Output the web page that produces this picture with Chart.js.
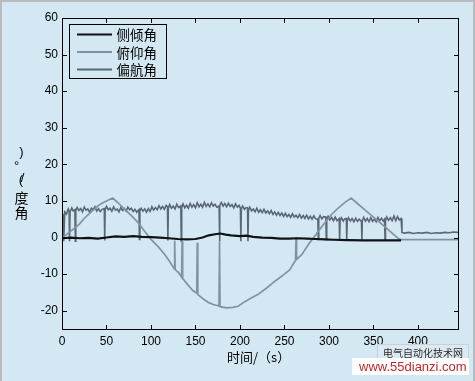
<!DOCTYPE html>
<html>
<head>
<meta charset="utf-8">
<script src="https://cdn.jsdelivr.net/npm/chart.js@4/dist/chart.umd.min.js"></script>
<style>
html,body{margin:0;padding:0;background:#d4e8f4;}
#wrap{width:475px;height:381px;position:relative;}
</style>
</head>
<body>
<div id="wrap"><canvas id="c" width="475" height="381"></canvas></div>
<script>
// ---- data ----
const seriesNames = ['侧倾角', '俯仰角', '偏航角'];
const xTickValues = [0, 50, 100, 150, 200, 250, 300, 350, 400];
const yTickValues = [-20, -10, 0, 10, 20, 30, 40, 50, 60];
const xTitle = '时间/（s）';

// roll (侧倾角): [time, degrees]
const rollPoints = [
  [0,-0.2],[10,0],[20,-0.2],[30,-0.1],[40,-0.3],[50,0],[60,0.3],[70,0.2],[80,0.4],[90,0.2],
  [100,0.1],[110,0],[120,-0.2],[130,-0.4],[140,-0.5],[150,-0.4],[158,0],[165,0.6],[172,0.9],[178,1.1],
  [184,0.8],[190,0.6],[200,0.4],[207,0.5],[215,0.2],[225,0],[235,-0.1],[245,-0.3],[255,-0.3],[265,-0.2],
  [275,-0.3],[285,-0.4],[295,-0.5],[305,-0.6],[320,-0.7],[340,-0.8],[360,-0.8],[381,-0.8]
];

// pitch (俯仰角): [time, degrees]
const pitchPoints = [
  [0,0],[5,0.8],[10,1.8],[15,2.7],[20,3.8],[25,5.2],[30,6.4],[35,7.5],[40,8.6],[45,9.4],
  [50,10.0],[57,10.8],[63,9.5],[70,7.8],[78,6.0],[85,4.2],[92,2.0],[100,-0.5],[108,-2.5],[115,-4.5],
  [120,-6.2],[126,-8.5],[126.6,-0.8],[127.2,-8.8],[131,-9.6],[134.4,-10.8],[135,-1.0],[135.6,-11.2],[141,-12.8],[147,-14.5],
  [151.4,-15.2],[152,-1.4],[152.6,-15.6],[160,-17.0],[165,-17.8],[170,-18.3],[176.4,-18.7],[177,-1.0],[177.6,-18.9],[185,-19.2],
  [192,-19.1],[198,-18.8],[205,-17.6],[212,-16.6],[220,-15.6],[230,-13.8],[240,-11.8],[250,-10.0],[256,-8.8],[262.4,-6.2],
  [263,0],[263.6,-6.0],[270,-4.5],[278,-1.5],[286,1.0],[292,3.0],[297,4.5],[303,6.3],[310,8.0],[318,9.6],
  [325,10.8],[332,9.3],[340,7.6],[350,5.6],[360,3.5],[370,1.4],[378,-0.3],[381,-0.6],[400,-0.6],[420,-0.6],
  [445,-0.6]
];

// yaw (偏航角): [time, degrees]
const yawPoints = [
  [0,0],[1,6.5],[2,-1],[3,7.0],[5,6.4],[7,7.8],[8,7.2],[8.5,-1],[9,7.0],[11,8.1],
  [12.5,7.3],[14.5,7.6],[15,-1],[15.5,7.4],[17,8.2],[19,7.4],[21,7.9],[23,7.0],[25,8.3],[27,7.5],
  [29,7.8],[31,6.9],[33,8.0],[35,7.6],[37,8.4],[39,7.2],[41,7.9],[43,7.1],[45,7.7],[47.5,7.9],
  [48,-0.8],[48.5,7.6],[50,8.5],[52,7.6],[54,8.0],[56,7.2],[58,8.4],[60,7.5],[62,7.8],[64,7.0],
  [66,8.2],[68,7.4],[70,7.9],[72,7.2],[74,8.3],[76,7.6],[78,8.0],[80,7.1],[82,7.7],[84,6.9],
  [86.5,7.6],[87,-0.5],[87.5,7.3],[89,8.0],[91,7.2],[93,7.8],[95,6.9],[97,7.9],[99,7.1],[101,8.4],
  [103,7.5],[105,8.2],[107,7.6],[109,8.7],[111,7.8],[113,8.5],[115,7.7],[117,8.8],[118.5,8.4],[119,-0.8],
  [119.5,8.0],[121,9.0],[123,8.0],[125,8.6],[127,7.8],[129,9.1],[131,8.2],[133.5,8.6],[134,-1.0],[134.5,8.2],
  [136,9.2],[138,8.1],[140,8.8],[142,8.0],[144,9.3],[146,8.3],[148,9.0],[150,8.1],[152,9.5],[154,8.4],
  [156,9.1],[158,8.3],[160,9.6],[162,8.5],[164,9.2],[166,8.4],[168,9.5],[170,8.6],[172,9.1],[174,8.3],
  [176.5,8.6],[177,-1.0],[177.5,8.8],[179,9.6],[181,8.6],[183,9.3],[185,8.4],[187,9.4],[189,8.5],[191,9.0],
  [193,8.1],[195,9.2],[197,8.3],[199,8.8],[200.5,8.0],[201,-1.0],[201.5,7.8],[203,8.6],[205,7.7],[207,8.2],
  [208.5,8.1],[209,-1.0],[209.5,7.4],[211,8.3],[213,7.3],[215,7.8],[217,7.0],[219,8.0],[221,6.9],[223,7.6],
  [225,6.8],[227,7.7],[229,6.7],[231,7.3],[233,6.5],[235,7.4],[237,6.3],[239,7.0],[241,6.1],[243,6.9],
  [245,6.0],[247,6.7],[249,5.8],[251,6.6],[253,5.7],[255,6.3],[257,5.5],[259,6.5],[261,5.6],[263,6.1],
  [265,5.4],[267,6.3],[269,5.3],[271,6.0],[273,5.2],[275,6.1],[277,5.1],[279,5.8],[281,5.0],[283,5.9],
  [285,5.1],[287.5,5.0],[288,-0.5],[288.5,5.3],[290,6.0],[292,5.1],[294,5.7],[296.5,5.6],[297,-0.5],[297.5,5.0],
  [299,5.8],[301,4.8],[303,5.5],[305,4.6],[307,5.6],[309,4.6],[311.5,5.2],[312,-0.5],[312.5,4.6],[314,5.4],
  [316,4.5],[317.5,5.1],[319.5,5.2],[320,-0.5],[320.5,4.6],[322,5.4],[324,4.5],[326,5.2],[328,4.3],[330,5.3],
  [332,4.4],[334,5.0],[336.5,4.4],[337,-0.5],[337.5,4.7],[339,5.5],[341,4.5],[343,5.2],[345,4.3],[347,5.4],
  [349,4.4],[351,5.1],[353,4.3],[355,5.5],[357,4.6],[359,5.3],[361,4.5],[362.5,5.0],[363,-0.5],[363.5,4.5],
  [365,5.6],[367,4.7],[369,5.4],[371,4.6],[373,5.9],[375,4.6],[377,5.7],[379,4.8],[381,5.2],[382,1.4],
  [385,1.2],[390,1.4],[395,1.1],[400,1.3],[405,1.2],[410,1.4],[415,1.1],[420,1.3],[425,1.2],[430,1.4],
  [435,1.3],[440,1.5],[445,1.4]
];

const seriesColors = ['#0e1216', '#8293a0', '#5b6874'];
const seriesWidths = [2.2, 1.7, 1.6];

const toXY = pts => pts.map(p => ({x: p[0], y: p[1]}));

const BG = '#d4e8f4';
const cjk = '"Noto Sans CJK SC", "Noto Sans", sans-serif';

const decor = {
  id: 'decor',
  beforeDraw(chart) {
    const ctx = chart.ctx;
    ctx.save();
    ctx.fillStyle = BG;
    ctx.fillRect(0, 0, chart.width, chart.height);
    ctx.restore();
  },
  afterDraw(chart) {
    const ctx = chart.ctx;
    const a = chart.chartArea;
    const xs = chart.scales.x, ys = chart.scales.y;
    ctx.save();
    // axes box
    ctx.strokeStyle = '#000';
    ctx.lineWidth = 1;
    const L = Math.round(a.left) + 0.5, R = Math.round(a.right) + 0.5;
    const T = Math.round(a.top) + 0.5, B = Math.round(a.bottom) + 0.5;
    ctx.strokeRect(L, T, R - L, B - T);
    // inward ticks
    const tl = 4.5;
    ctx.beginPath();
    xTickValues.forEach(v => {
      const px = Math.round(xs.getPixelForValue(v)) + 0.5;
      ctx.moveTo(px, B); ctx.lineTo(px, B - tl);
      ctx.moveTo(px, T); ctx.lineTo(px, T + tl);
    });
    yTickValues.forEach(v => {
      const py = Math.round(ys.getPixelForValue(v)) + 0.5;
      ctx.moveTo(L, py); ctx.lineTo(L + tl, py);
      ctx.moveTo(R, py); ctx.lineTo(R - tl, py);
    });
    ctx.stroke();

    // legend
    const lx = 69.5, ly = 24.5, lw = 97, lh = 54;
    ctx.strokeRect(lx, ly, lw, lh);
    const rowsY = [34.5, 52, 69.5];
    ctx.font = '13.5px ' + cjk;
    ctx.textBaseline = 'middle';
    ctx.textAlign = 'left';
    seriesNames.forEach((n, i) => {
      ctx.strokeStyle = seriesColors[i];
      ctx.lineWidth = 2.2;
      ctx.beginPath();
      ctx.moveTo(77, rowsY[i]); ctx.lineTo(112, rowsY[i]);
      ctx.stroke();
      ctx.fillStyle = '#000';
      ctx.fillText(n, 116.5, rowsY[i] + 0.5);
    });

    // x title
    ctx.fillStyle = '#000';
    ctx.font = '13px ' + cjk;
    ctx.textAlign = 'left';
    ctx.fillText(xTitle, 227, 357.5);

    // y title (glyphs stacked as in the original rendering)
    ctx.textAlign = 'center';
    ctx.font = '14px ' + cjk;
    ctx.fillText('度', 21.5, 197.5);
    ctx.fillText('角', 21.5, 212.5);
    ctx.font = '13px "Liberation Sans", Arial, sans-serif';
    ctx.fillText(')', 21.5, 152);
    ctx.fillText('°', 16.5, 166);
    ctx.fillText('(', 21, 180);
    ctx.fillText('/', 22.5, 178);

    // watermark
    ctx.fillStyle = '#dde9f1';
    ctx.fillRect(377, 345, 91, 14);
    ctx.strokeStyle = '#c4d3dd';
    ctx.lineWidth = 1;
    ctx.strokeRect(377.5, 344.5, 91, 14);
    ctx.fillStyle = '#2c2c2c';
    ctx.font = '10px ' + cjk;
    ctx.textAlign = 'center';
    ctx.fillText('电气自动化技术网', 423, 353);
    ctx.fillStyle = '#ffffff';
    ctx.fillRect(352, 358, 117, 17);
    ctx.fillStyle = '#c0282d';
    ctx.font = '13px "Liberation Sans", Arial, sans-serif';
    ctx.textAlign = 'left';
    ctx.fillText('www.55dianzi.com', 359, 367);

    // outer frame
    ctx.fillStyle = '#b9bcbf';
    ctx.fillRect(0, 0, chart.width, 2);
    ctx.fillRect(0, 0, 2, chart.height);
    ctx.fillRect(chart.width - 2, 0, 2, chart.height);
    ctx.restore();
  }
};

new Chart(document.getElementById('c'), {
  type: 'line',
  data: {
    datasets: [0, 1, 2].map(i => ({
      label: seriesNames[i],
      data: toXY([rollPoints, pitchPoints, yawPoints][i]),
      borderColor: seriesColors[i],
      borderWidth: seriesWidths[i],
      pointRadius: 0,
      tension: 0,
      fill: false
    }))
  },
  options: {
    responsive: false,
    animation: false,
    events: [],
    layout: {padding: {top: 18, right: 17, left: 0, bottom: 0}},
    plugins: {legend: {display: false}, tooltip: {enabled: false}},
    scales: {
      x: {
        type: 'linear', min: 0, max: 445,
        afterBuildTicks: s => { s.ticks = xTickValues.map(v => ({value: v})); },
        afterFit: s => { s.height = 52; },
        grid: {display: false, drawTicks: false},
        border: {display: false},
        ticks: {padding: 5, color: '#000', font: {family: '"Liberation Sans", Arial, sans-serif', size: 12}, maxRotation: 0, autoSkip: false}
      },
      y: {
        type: 'linear', min: -25, max: 60,
        afterBuildTicks: s => { s.ticks = yTickValues.map(v => ({value: v})); },
        afterFit: s => { s.width = 62; },
        grid: {display: false, drawTicks: false},
        border: {display: false},
        ticks: {padding: 4, color: '#000', font: {family: '"Liberation Sans", Arial, sans-serif', size: 12}, autoSkip: false}
      }
    }
  },
  plugins: [decor]
});
</script>
</body>
</html>
